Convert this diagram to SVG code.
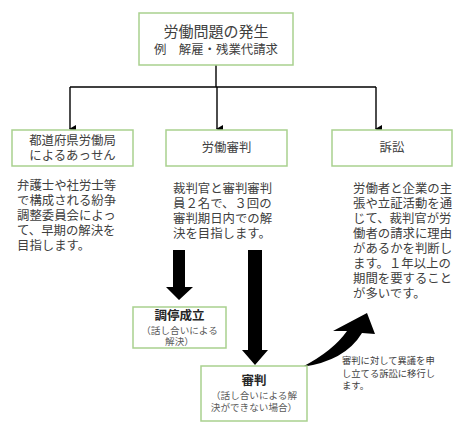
<svg xmlns="http://www.w3.org/2000/svg" width="465" height="432" viewBox="0 0 465 432">
<style>
  text { font-family: "Noto Sans CJK JP", "Noto Sans", sans-serif; fill: #404040; }
  .box { fill: #ffffff; stroke: #a9d18e; stroke-width: 1.5; }
  .c { text-anchor: middle; }
  .t13 { font-size: 12.4px; }
  .b { font-weight: bold; font-size: 12.5px; fill: #262626; }
  .s { font-size: 9.6px; fill: #595959; }
  .ann { font-size: 9.3px; fill: #404040; }
  .line { fill: none; stroke: #000; stroke-width: 1.4; }
  .big { fill: #000; }
</style>
<defs>
  <marker id="ah" markerWidth="8" markerHeight="8" refX="4" refY="7" orient="auto" markerUnits="userSpaceOnUse" viewBox="0 0 8 8">
    <path d="M0,1 L8,1 L4,8 Z" fill="#000"/>
  </marker>
</defs>
<rect width="465" height="432" fill="#ffffff"/>

<g id="connectors">
  <path class="line" d="M216,65 V87"/>
  <path class="line" d="M70,87 H376"/>
  <path class="line" d="M70,87 V129" marker-end="url(#ah)"/>
  <path class="line" d="M217,87 V129" marker-end="url(#ah)"/>
  <path class="line" d="M376,87 V129" marker-end="url(#ah)"/>
  <path class="big" d="M173,250 H185 V287 H193 L179,300 L166,287 H173 Z"/>
  <path class="big" d="M248,250 H262 V350 H268 L255,365 L242,350 H248 Z"/>
  <path class="big" d="M302,367 Q333,351 347,331 L333,331 L367,313 L375,334 L362,333 Q345,361 302,367 Z"/>
</g>

<g id="node-top">
  <rect class="box" x="139" y="13" width="154" height="52"/>
  <text class="c" x="216" y="37.4" style="font-size:15px">労働問題の発生</text>
  <text class="c t13" x="216" y="53.5">例　解雇・残業代請求</text>
</g>

<g id="node-assen">
  <rect class="box" x="12" y="130" width="121" height="36"/>
  <text class="c t13" x="72.5" y="144.5">都道府県労働局<tspan x="72.5" dy="15">によるあっせん</tspan></text>
</g>

<g id="node-shinpan">
  <rect class="box" x="166" y="130" width="121" height="36"/>
  <text class="c t13" x="226.5" y="151.5">労働審判</text>
</g>

<g id="node-sosho">
  <rect class="box" x="332" y="130" width="120" height="36"/>
  <text class="c t13" x="392" y="151.5">訴訟</text>
</g>

<g id="desc-assen">
  <text class="t13" x="17" y="189.5">弁護士や社労士等<tspan x="17" dy="15">で構成される紛争</tspan><tspan x="17" dy="15">調整委員会によっ</tspan><tspan x="17" dy="15">て、早期の解決を</tspan><tspan x="17" dy="15">目指します。</tspan></text>
</g>

<g id="desc-shinpan">
  <text class="t13" x="173" y="192.5">裁判官と審判審判<tspan x="173" dy="15">員２名で、３回の</tspan><tspan x="173" dy="15">審判期日内での解</tspan><tspan x="173" dy="15">決を目指します。</tspan></text>
</g>

<g id="desc-sosho">
  <text class="t13" x="353" y="192.5">労働者と企業の主<tspan x="353" dy="15">張や立証活動を通</tspan><tspan x="353" dy="15">じて、裁判官が労</tspan><tspan x="353" dy="15">働者の請求に理由</tspan><tspan x="353" dy="15">があるかを判断し</tspan><tspan x="353" dy="15">ます。１年以上の</tspan><tspan x="353" dy="15">期間を要すること</tspan><tspan x="353" dy="15">が多いです。</tspan></text>
</g>

<g id="node-chotei">
  <rect class="box" x="133" y="307" width="93" height="41"/>
  <text class="c b" x="179.5" y="319.5">調停成立</text>
  <text class="c s" x="179.5" y="333.5">（話し合いによる<tspan x="179.5" dy="11">解決）</tspan></text>
</g>

<g id="node-shinpan-result">
  <rect class="box" x="201" y="366" width="106" height="55"/>
  <text class="c b" x="254" y="384.5">審判</text>
  <text class="c s" x="254" y="398.5">（話し合いによる解<tspan x="254" dy="12">決ができない場合）</tspan></text>
</g>

<g id="annotation">
  <text class="ann" x="342" y="364.4">審判に対して異議を申<tspan x="342" dy="12.3">し立てる訴訟に移行し</tspan><tspan x="342" dy="12.3">ます。</tspan></text>
</g>
</svg>
